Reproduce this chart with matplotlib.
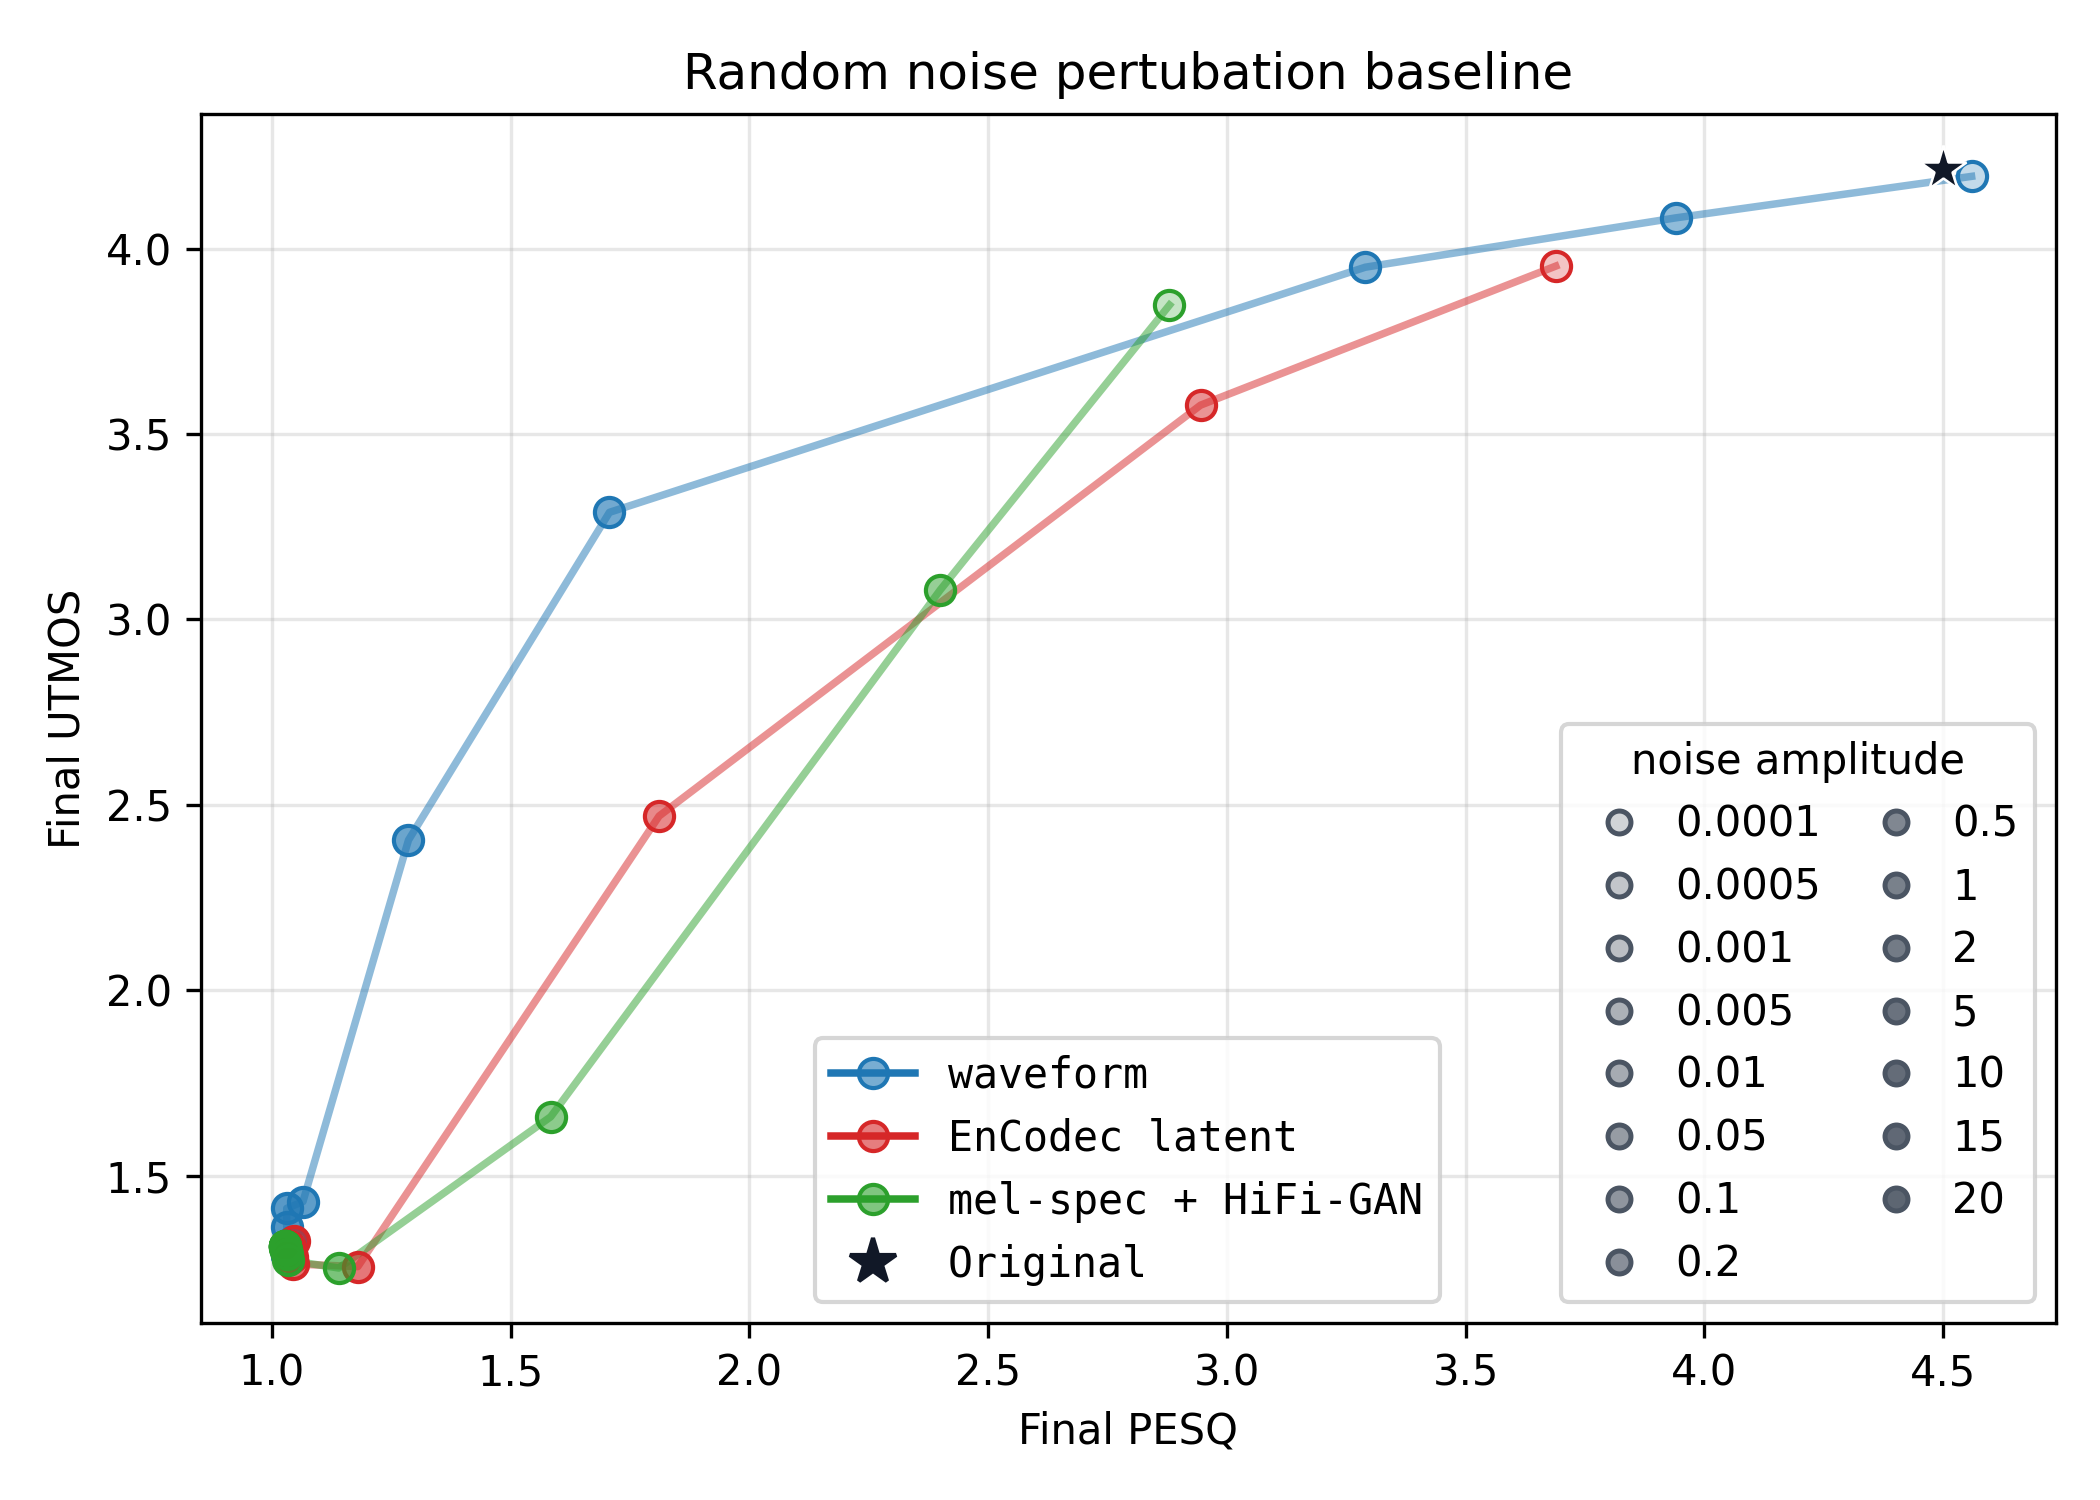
import numpy as np
import matplotlib.pyplot as plt
from matplotlib.lines import Line2D
from matplotlib.colors import to_rgba

# noise amplitudes (same for all three perturbation domains)
noise_levels = [0.0001, 0.0005, 0.001, 0.005, 0.01, 0.05, 0.1, 0.2, 0.5, 1, 2, 5, 10, 15, 20]
noise_labels = ["0.0001", "0.0005", "0.001", "0.005", "0.01", "0.05", "0.1", "0.2",
                "0.5", "1", "2", "5", "10", "15", "20"]

waveform_pesq = [4.56, 3.94, 3.29, 1.707, 1.286, 1.065, 1.031, 1.031, 1.042, 1.036, 1.034, 1.033, 1.032, 1.032, 1.032]
waveform_utmos = [4.195, 4.083, 3.95, 3.289, 2.405, 1.430, 1.412, 1.362, 1.322, 1.305, 1.295, 1.29, 1.288, 1.286, 1.285]

encodec_pesq = [3.689, 2.945, 1.811, 1.180, 1.044, 1.042, 1.046, 1.040, 1.038, 1.036, 1.035, 1.034, 1.034, 1.034, 1.034]
encodec_utmos = [3.953, 3.578, 2.470, 1.255, 1.262, 1.280, 1.325, 1.300, 1.305, 1.308, 1.31, 1.31, 1.31, 1.31, 1.31]

mel_pesq = [2.880, 2.400, 1.584, 1.140, 1.034, 1.031, 1.029, 1.028, 1.028, 1.028, 1.028, 1.028, 1.028, 1.028, 1.028]
mel_utmos = [3.848, 3.080, 1.659, 1.251, 1.272, 1.290, 1.300, 1.305, 1.308, 1.31, 1.31, 1.31, 1.31, 1.31, 1.31]

original_pesq = 4.50
original_utmos = 4.215

series = [
    ("waveform", waveform_pesq, waveform_utmos, "#1f77b4"),
    ("EnCodec latent", encodec_pesq, encodec_utmos, "#d62728"),
    ("mel-spec + HiFi-GAN", mel_pesq, mel_utmos, "#2ca02c"),
]

# fill opacity grows with log noise amplitude
lg = np.log10(noise_levels)
t = (lg - lg.min()) / (lg.max() - lg.min())
alphas = 0.25 + 0.65 * t
point_alphas = 0.27 + 0.63 * t ** 0.5

fig, ax = plt.subplots(figsize=(7, 5), dpi=300)
fig.subplots_adjust(left=0.0957, right=0.979, top=0.924, bottom=0.118)

for name, xs, ys, col in series:
    ax.plot(xs, ys, color=col, alpha=0.5, lw=1.8, zorder=2)
for name, xs, ys, col in series:
    for x, y, a in zip(xs, ys, point_alphas):
        ax.plot(x, y, 'o', ms=7, mfc=to_rgba(col, a), mec=col, mew=1.0, zorder=3)

ax.plot(original_pesq, original_utmos, '*', ms=11.5, color='#111827', mec='white', mew=0.6, zorder=5)

ax.set_title("Random noise pertubation baseline")
ax.set_xlabel("Final PESQ")
ax.set_ylabel("Final UTMOS")
ax.grid(True, alpha=0.3)

handles = [Line2D([], [], color=col, lw=1.8, marker='o', ms=7, mfc=to_rgba(col, 0.6), mec=col)
           for name, xs, ys, col in series]
handles.append(Line2D([], [], ls='none', marker='*', ms=11.5, color='#111827'))
labels = [s[0] for s in series] + ["Original"]
leg1 = ax.legend(handles, labels, loc='lower right', bbox_to_anchor=(0.679, 0.0),
                 prop={'family': 'monospace'})
ax.add_artist(leg1)

gray = '#4b5563'
nh = [Line2D([], [], ls='none', marker='o', ms=5.5, mfc=to_rgba(gray, a), mec=gray, mew=1.2)
      for a in alphas]
ax.legend(nh, noise_labels, title="noise amplitude", loc='lower right', ncol=2,
          handletextpad=0.35, columnspacing=0.8)

plt.savefig("out.png", dpi=300)
